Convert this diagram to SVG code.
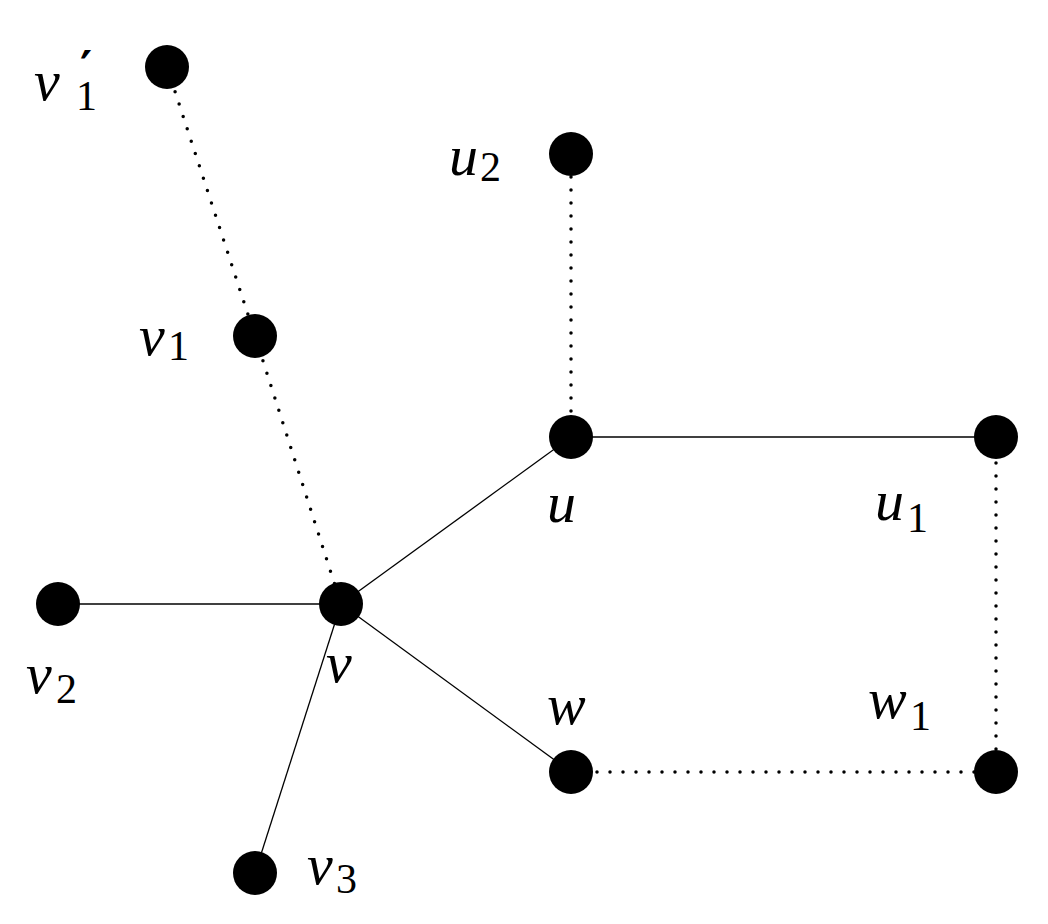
<svg xmlns="http://www.w3.org/2000/svg" width="1048" height="924" viewBox="0 0 1048 924">
<style>
.n{fill:#000}
.s{stroke:#000;stroke-width:1.3;fill:none}
.d{stroke:#000;stroke-width:3.5;fill:none;stroke-dasharray:0 13;stroke-linecap:round}
.l{font-family:"Liberation Serif",serif;font-style:italic;font-size:58px}
.b{font-family:"Liberation Serif",serif;font-size:42px}
.p{font-family:"DejaVu Sans",sans-serif;font-size:46px;font-weight:bold}
</style>
<rect width="1048" height="924" fill="#fff"/>
<g id="edges">
<line class="d" x1="167" y1="67" x2="255" y2="336"/>
<line class="d" x1="255" y1="336" x2="341" y2="604"/>
<line class="s" x1="341" y1="604" x2="571" y2="437"/>
<line class="s" x1="341" y1="604" x2="58" y2="604"/>
<line class="s" x1="341" y1="604" x2="255" y2="873"/>
<line class="s" x1="341" y1="604" x2="571" y2="772"/>
<line class="d" x1="571" y1="437" x2="571" y2="154"/>
<line class="s" x1="571" y1="437" x2="996" y2="437"/>
<line class="d" x1="996" y1="437" x2="996" y2="772"/>
<line class="d" x1="571" y1="772" x2="996" y2="772"/>
</g>
<g id="v1p"><circle class="n" cx="167" cy="67" r="22"/><text class="l" x="34" y="100">v</text><text class="p" x="80" y="84">′</text><text class="b" x="76" y="110">1</text></g>
<g id="v1"><circle class="n" cx="255" cy="336" r="22"/><text class="l" x="139" y="355">v</text><text class="b" x="168" y="360">1</text></g>
<g id="v"><circle class="n" cx="341" cy="604" r="22"/><text class="l" x="326" y="682">v</text></g>
<g id="v2"><circle class="n" cx="58" cy="604" r="22"/><text class="l" x="26" y="693">v</text><text class="b" x="56" y="703">2</text></g>
<g id="v3"><circle class="n" cx="255" cy="873" r="22"/><text class="l" x="307" y="884">v</text><text class="b" x="336" y="893">3</text></g>
<g id="u2"><circle class="n" cx="571" cy="154" r="22"/><text class="l" x="449" y="175">u</text><text class="b" x="480" y="181">2</text></g>
<g id="u"><circle class="n" cx="571" cy="437" r="22"/><text class="l" x="547" y="522">u</text></g>
<g id="u1"><circle class="n" cx="996" cy="437" r="22"/><text class="l" x="875" y="520">u</text><text class="b" x="907" y="532">1</text></g>
<g id="w"><circle class="n" cx="571" cy="772" r="22"/><text class="l" x="547" y="724">w</text></g>
<g id="w1"><circle class="n" cx="996" cy="772" r="22"/><text class="l" x="868" y="718">w</text><text class="b" x="910" y="730">1</text></g>
</svg>
